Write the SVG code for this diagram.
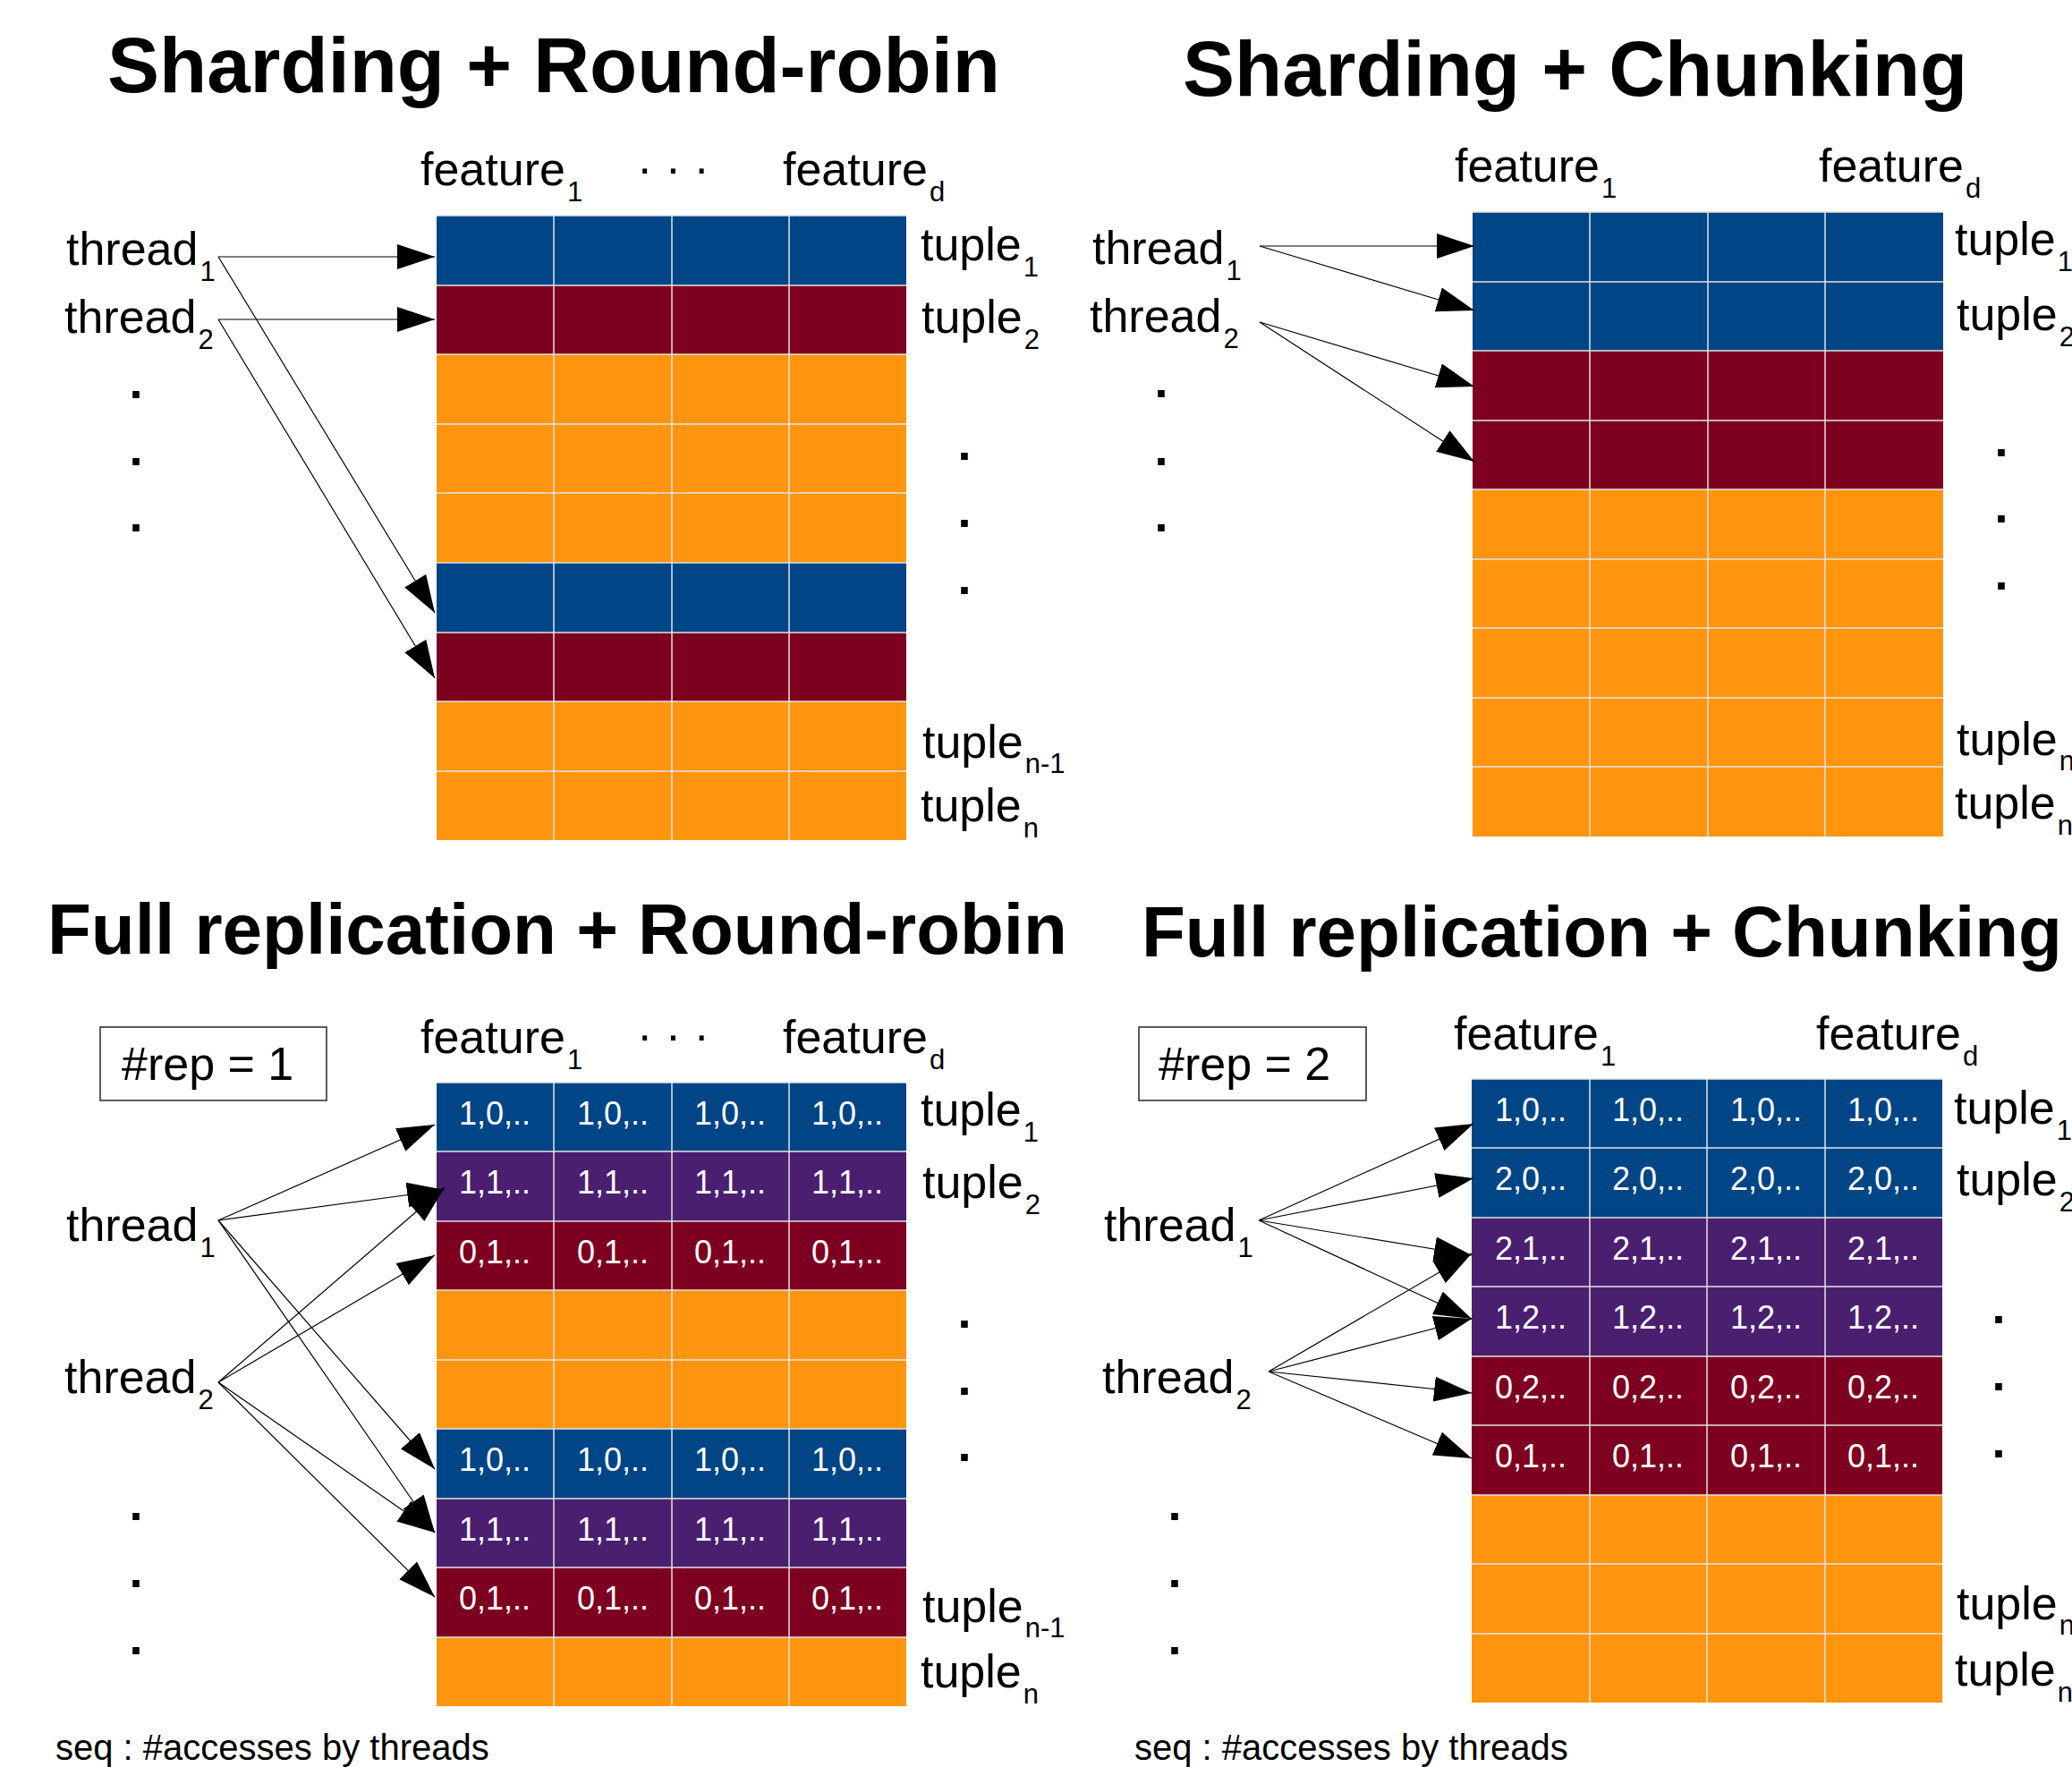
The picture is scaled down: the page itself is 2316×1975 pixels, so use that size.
<svg xmlns="http://www.w3.org/2000/svg" width="2316" height="1975" viewBox="0 0 2316 1975">
<defs>
<style>
text{font-family:"Liberation Sans",Arial,sans-serif;fill:#000}
.title{font-size:87px;font-weight:bold}
.title2{font-size:80px;font-weight:bold}
.lbl{font-size:52px}
.sub{font-size:31px}
.dot{font-size:54px;font-weight:bold;text-anchor:middle}
.cell{font-size:36px;fill:#fff;text-anchor:middle}
.seq{font-size:40px}
.B{fill:#004586}.R{fill:#7e0021}.O{fill:#ff950e}.P{fill:#4b1f6f}
.grid{stroke:#e4e4e4;stroke-width:1.5;fill:none}
.conn line{stroke:#000;stroke-width:1.2;marker-end:url(#ah)}
.box{fill:#fff;stroke:#333;stroke-width:1.6}
</style>
<marker id="ah" markerUnits="userSpaceOnUse" viewBox="0 0 42 28" markerWidth="42" markerHeight="28" refX="42" refY="14" orient="auto"><path d="M0,0 L42,14 L0,28 Z" fill="#000"/></marker>
</defs>
<rect width="2316" height="1975" fill="#fff"/>

<!-- ========== Panel 1: Sharding + Round-robin ========== -->
<g id="p1">
<text class="title" x="120" y="103">Sharding + Round-robin</text>
<g id="p1-features">
<text class="lbl" x="470" y="207">feature<tspan class="sub" dx="2" dy="18">1</tspan></text>
<text class="lbl" x="712" y="205">· · ·</text>
<text class="lbl" x="875" y="207">feature<tspan class="sub" dx="2" dy="18">d</tspan></text>
</g>
<g id="p1-thread1"><text class="lbl" x="74" y="296">thread<tspan class="sub" dx="2" dy="18">1</tspan></text></g>
<g id="p1-thread2"><text class="lbl" x="72" y="372">thread<tspan class="sub" dx="2" dy="18">2</tspan></text></g>
<g id="p1-dots-left"><text class="dot" x="152" y="445">.</text><text class="dot" x="152" y="520">.</text><text class="dot" x="152" y="594">.</text></g>
<g id="p1-grid">
<rect class="B" x="488" y="241" width="525" height="78"/>
<rect class="R" x="488" y="319" width="525" height="77"/>
<rect class="O" x="488" y="396" width="525" height="233"/>
<rect class="B" x="488" y="629" width="525" height="78"/>
<rect class="R" x="488" y="707" width="525" height="77"/>
<rect class="O" x="488" y="784" width="525" height="155"/>
<path class="grid" d="M488,241H1013M488,319H1013M488,396H1013M488,474H1013M488,551H1013M488,629H1013M488,707H1013M488,784H1013M488,862H1013M619,241V939M751,241V939M882,241V939"/>
</g>
<g id="p1-tuples">
<text class="lbl" x="1029" y="291">tuple<tspan class="sub" dx="2" dy="18">1</tspan></text>
<text class="lbl" x="1030" y="372">tuple<tspan class="sub" dx="2" dy="18">2</tspan></text>
<text class="lbl" x="1031" y="847">tuple<tspan class="sub" dx="2" dy="17">n-1</tspan></text>
<text class="lbl" x="1029" y="918">tuple<tspan class="sub" dx="2" dy="18">n</tspan></text>
</g>
<g id="p1-dots-right"><text class="dot" x="1078" y="514">.</text><text class="dot" x="1078" y="589">.</text><text class="dot" x="1078" y="664">.</text></g>
</g>

<!-- ========== Panel 2: Sharding + Chunking ========== -->
<g id="p2">
<text class="title" x="1322" y="107">Sharding + Chunking</text>
<g id="p2-features">
<text class="lbl" x="1626" y="203">feature<tspan class="sub" dx="2" dy="18">1</tspan></text>
<text class="lbl" x="2033" y="203">feature<tspan class="sub" dx="2" dy="18">d</tspan></text>
</g>
<g id="p2-thread1"><text class="lbl" x="1221" y="295">thread<tspan class="sub" dx="2" dy="18">1</tspan></text></g>
<g id="p2-thread2"><text class="lbl" x="1218" y="371">thread<tspan class="sub" dx="2" dy="18">2</tspan></text></g>
<g id="p2-dots-left"><text class="dot" x="1298" y="444">.</text><text class="dot" x="1298" y="520">.</text><text class="dot" x="1298" y="594">.</text></g>
<g id="p2-grid">
<rect class="B" x="1646" y="237" width="526" height="155"/>
<rect class="R" x="1646" y="392" width="526" height="155"/>
<rect class="O" x="1646" y="547" width="526" height="388"/>
<path class="grid" d="M1646,237H2172M1646,315H2172M1646,392H2172M1646,470H2172M1646,547H2172M1646,625H2172M1646,702H2172M1646,780H2172M1646,857H2172M1777,237V935M1909,237V935M2040,237V935"/>
</g>
<g id="p2-tuples">
<text class="lbl" x="2185" y="285">tuple<tspan class="sub" dx="2" dy="18">1</tspan></text>
<text class="lbl" x="2187" y="369">tuple<tspan class="sub" dx="2" dy="18">2</tspan></text>
<text class="lbl" x="2187" y="844">tuple<tspan class="sub" dx="2" dy="17">n-1</tspan></text>
<text class="lbl" x="2185" y="915">tuple<tspan class="sub" dx="2" dy="18">n</tspan></text>
</g>
<g id="p2-dots-right"><text class="dot" x="2237" y="510">.</text><text class="dot" x="2237" y="584">.</text><text class="dot" x="2237" y="659">.</text></g>
</g>

<!-- ========== Panel 3: Full replication + Round-robin ========== -->
<g id="p3">
<text class="title2" x="53" y="1066">Full replication + Round-robin</text>
<g id="p3-rep"><rect class="box" x="112" y="1148" width="253" height="82"/><text class="lbl" x="136" y="1207">#rep = 1</text></g>
<g id="p3-features">
<text class="lbl" x="470" y="1177">feature<tspan class="sub" dx="2" dy="18">1</tspan></text>
<text class="lbl" x="712" y="1174">· · ·</text>
<text class="lbl" x="875" y="1177">feature<tspan class="sub" dx="2" dy="18">d</tspan></text>
</g>
<g id="p3-thread1"><text class="lbl" x="74" y="1387">thread<tspan class="sub" dx="2" dy="18">1</tspan></text></g>
<g id="p3-thread2"><text class="lbl" x="72" y="1557">thread<tspan class="sub" dx="2" dy="18">2</tspan></text></g>
<g id="p3-dots-left"><text class="dot" x="152" y="1699">.</text><text class="dot" x="152" y="1774">.</text><text class="dot" x="152" y="1849">.</text></g>
<g id="p3-grid">
<rect class="B" x="488" y="1210" width="525" height="77"/>
<rect class="P" x="488" y="1287" width="525" height="78"/>
<rect class="R" x="488" y="1365" width="525" height="77"/>
<rect class="O" x="488" y="1442" width="525" height="155"/>
<rect class="B" x="488" y="1597" width="525" height="78"/>
<rect class="P" x="488" y="1675" width="525" height="77"/>
<rect class="R" x="488" y="1752" width="525" height="78"/>
<rect class="O" x="488" y="1830" width="525" height="77"/>
<path class="grid" d="M488,1210H1013M488,1287H1013M488,1365H1013M488,1442H1013M488,1520H1013M488,1597H1013M488,1675H1013M488,1752H1013M488,1830H1013M619,1210V1907M751,1210V1907M882,1210V1907"/>
<g id="p3-r1"><text class="cell" x="553" y="1257">1,0,..</text><text class="cell" x="685" y="1257">1,0,..</text><text class="cell" x="816" y="1257">1,0,..</text><text class="cell" x="947" y="1257">1,0,..</text></g>
<g id="p3-r2"><text class="cell" x="553" y="1334">1,1,..</text><text class="cell" x="685" y="1334">1,1,..</text><text class="cell" x="816" y="1334">1,1,..</text><text class="cell" x="947" y="1334">1,1,..</text></g>
<g id="p3-r3"><text class="cell" x="553" y="1412">0,1,..</text><text class="cell" x="685" y="1412">0,1,..</text><text class="cell" x="816" y="1412">0,1,..</text><text class="cell" x="947" y="1412">0,1,..</text></g>
<g id="p3-r6"><text class="cell" x="553" y="1644">1,0,..</text><text class="cell" x="685" y="1644">1,0,..</text><text class="cell" x="816" y="1644">1,0,..</text><text class="cell" x="947" y="1644">1,0,..</text></g>
<g id="p3-r7"><text class="cell" x="553" y="1722">1,1,..</text><text class="cell" x="685" y="1722">1,1,..</text><text class="cell" x="816" y="1722">1,1,..</text><text class="cell" x="947" y="1722">1,1,..</text></g>
<g id="p3-r8"><text class="cell" x="553" y="1799">0,1,..</text><text class="cell" x="685" y="1799">0,1,..</text><text class="cell" x="816" y="1799">0,1,..</text><text class="cell" x="947" y="1799">0,1,..</text></g>
</g>
<g id="p3-tuples">
<text class="lbl" x="1029" y="1258">tuple<tspan class="sub" dx="2" dy="18">1</tspan></text>
<text class="lbl" x="1031" y="1339">tuple<tspan class="sub" dx="2" dy="18">2</tspan></text>
<text class="lbl" x="1031" y="1813">tuple<tspan class="sub" dx="2" dy="17">n-1</tspan></text>
<text class="lbl" x="1029" y="1886">tuple<tspan class="sub" dx="2" dy="18">n</tspan></text>
</g>
<g id="p3-dots-right"><text class="dot" x="1078" y="1484">.</text><text class="dot" x="1078" y="1559">.</text><text class="dot" x="1078" y="1633">.</text></g>
<text class="seq" x="62" y="1967">seq : #accesses by threads</text>
</g>

<!-- ========== Panel 4: Full replication + Chunking ========== -->
<g id="p4">
<text class="title2" x="1276" y="1069">Full replication + Chunking</text>
<g id="p4-rep"><rect class="box" x="1273" y="1148" width="254" height="82"/><text class="lbl" x="1295" y="1207">#rep = 2</text></g>
<g id="p4-features">
<text class="lbl" x="1625" y="1173">feature<tspan class="sub" dx="2" dy="18">1</tspan></text>
<text class="lbl" x="2030" y="1173">feature<tspan class="sub" dx="2" dy="18">d</tspan></text>
</g>
<g id="p4-thread1"><text class="lbl" x="1234" y="1387">thread<tspan class="sub" dx="2" dy="18">1</tspan></text></g>
<g id="p4-thread2"><text class="lbl" x="1232" y="1557">thread<tspan class="sub" dx="2" dy="18">2</tspan></text></g>
<g id="p4-dots-left"><text class="dot" x="1313" y="1699">.</text><text class="dot" x="1313" y="1774">.</text><text class="dot" x="1313" y="1849">.</text></g>
<g id="p4-grid">
<rect class="B" x="1645" y="1206" width="526" height="155"/>
<rect class="P" x="1645" y="1361" width="526" height="155"/>
<rect class="R" x="1645" y="1516" width="526" height="155"/>
<rect class="O" x="1645" y="1671" width="526" height="232"/>
<path class="grid" d="M1645,1206H2171M1645,1283H2171M1645,1361H2171M1645,1438H2171M1645,1516H2171M1645,1593H2171M1645,1671H2171M1645,1748H2171M1645,1826H2171M1777,1206V1903M1908,1206V1903M2040,1206V1903"/>
<g id="p4-r1"><text class="cell" x="1711" y="1253">1,0,..</text><text class="cell" x="1842" y="1253">1,0,..</text><text class="cell" x="1974" y="1253">1,0,..</text><text class="cell" x="2105" y="1253">1,0,..</text></g>
<g id="p4-r2"><text class="cell" x="1711" y="1330">2,0,..</text><text class="cell" x="1842" y="1330">2,0,..</text><text class="cell" x="1974" y="1330">2,0,..</text><text class="cell" x="2105" y="1330">2,0,..</text></g>
<g id="p4-r3"><text class="cell" x="1711" y="1408">2,1,..</text><text class="cell" x="1842" y="1408">2,1,..</text><text class="cell" x="1974" y="1408">2,1,..</text><text class="cell" x="2105" y="1408">2,1,..</text></g>
<g id="p4-r4"><text class="cell" x="1711" y="1485">1,2,..</text><text class="cell" x="1842" y="1485">1,2,..</text><text class="cell" x="1974" y="1485">1,2,..</text><text class="cell" x="2105" y="1485">1,2,..</text></g>
<g id="p4-r5"><text class="cell" x="1711" y="1563">0,2,..</text><text class="cell" x="1842" y="1563">0,2,..</text><text class="cell" x="1974" y="1563">0,2,..</text><text class="cell" x="2105" y="1563">0,2,..</text></g>
<g id="p4-r6"><text class="cell" x="1711" y="1640">0,1,..</text><text class="cell" x="1842" y="1640">0,1,..</text><text class="cell" x="1974" y="1640">0,1,..</text><text class="cell" x="2105" y="1640">0,1,..</text></g>
</g>
<g id="p4-tuples">
<text class="lbl" x="2184" y="1256">tuple<tspan class="sub" dx="2" dy="18">1</tspan></text>
<text class="lbl" x="2187" y="1336">tuple<tspan class="sub" dx="2" dy="18">2</tspan></text>
<text class="lbl" x="2187" y="1810">tuple<tspan class="sub" dx="2" dy="17">n-1</tspan></text>
<text class="lbl" x="2185" y="1884">tuple<tspan class="sub" dx="2" dy="18">n</tspan></text>
</g>
<g id="p4-dots-right"><text class="dot" x="2234" y="1479">.</text><text class="dot" x="2234" y="1554">.</text><text class="dot" x="2234" y="1629">.</text></g>
<text class="seq" x="1268" y="1967">seq : #accesses by threads</text>
</g>

<!-- ========== Connectors ========== -->
<g id="connectors" class="conn">
<line x1="244" y1="287" x2="486" y2="287"/>
<line x1="244" y1="287" x2="486" y2="685"/>
<line x1="244" y1="357" x2="486" y2="357"/>
<line x1="244" y1="357" x2="486" y2="758"/>

<line x1="1408" y1="275" x2="1648" y2="275"/>
<line x1="1408" y1="275" x2="1648" y2="347"/>
<line x1="1408" y1="360" x2="1648" y2="432"/>
<line x1="1408" y1="360" x2="1648" y2="516"/>

<line x1="244" y1="1364" x2="486" y2="1257"/>
<line x1="244" y1="1364" x2="497" y2="1330"/>
<line x1="244" y1="1364" x2="486" y2="1642"/>
<line x1="244" y1="1364" x2="486" y2="1713"/>
<line x1="244" y1="1545" x2="497" y2="1327"/>
<line x1="244" y1="1545" x2="486" y2="1403"/>
<line x1="244" y1="1545" x2="486" y2="1713"/>
<line x1="244" y1="1545" x2="486" y2="1785"/>

<line x1="1407" y1="1364" x2="1647" y2="1256"/>
<line x1="1407" y1="1364" x2="1647" y2="1317"/>
<line x1="1407" y1="1364" x2="1645" y2="1403"/>
<line x1="1407" y1="1364" x2="1645" y2="1474"/>
<line x1="1418" y1="1533" x2="1645" y2="1401"/>
<line x1="1418" y1="1533" x2="1645" y2="1474"/>
<line x1="1418" y1="1533" x2="1645" y2="1557"/>
<line x1="1418" y1="1533" x2="1645" y2="1630"/>
</g>
</svg>
